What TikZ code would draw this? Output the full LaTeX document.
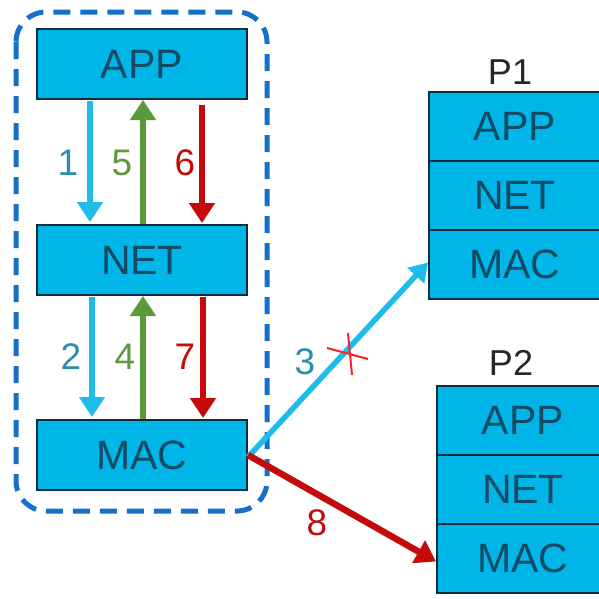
\documentclass[tikz,border=0pt]{standalone}
\usepackage{fontspec}
\setmainfont{Liberation Sans}
\usetikzlibrary{arrows.meta}
\definecolor{layerfill}{HTML}{00B6E8}
\definecolor{layerline}{HTML}{0E2C3C}
\definecolor{layertext}{HTML}{134A64}
\definecolor{groupblue}{HTML}{1670C8}
\definecolor{sendblue}{HTML}{1EBCEB}
\definecolor{sendtext}{HTML}{2A8FAB}
\definecolor{ackgreen}{HTML}{5A9A3A}
\definecolor{fwdred}{HTML}{C40A0A}
\definecolor{crossred}{HTML}{F5222A}
\tikzset{
  layer/.style={draw=layerline, line width=2pt, fill=layerfill, text=layertext,
    minimum width=210pt, minimum height=70pt, inner sep=0pt,
    font=\fontsize{41}{45}\selectfont},
  stacklayer/.style={layer, minimum width=172pt, minimum height=69pt},
  flow/.style={line width=6pt, -{Triangle[width=25pt,length=20pt]}},
  numlabel/.style={inner sep=0pt, font=\fontsize{37}{42}\selectfont},
  peerlabel/.style={inner sep=0pt, font=\fontsize{36}{40}\selectfont, text=black!85},
}
\begin{document}
\begin{tikzpicture}[x=1pt,y=-1pt]
\useasboundingbox (0,0) rectangle (599,598);
\clip (0,0) rectangle (599,598);
\fill[white] (0,0) rectangle (599,598);

% local protocol stack inside its dashed group
\draw[groupblue, line width=5pt, dash pattern=on 17pt off 10pt, rounded corners=30pt]
  (16,12) rectangle (267,511);
\node[layer] (app) at (142,64) {APP};
\node[layer] (net) at (142,260) {NET};
\node[layer] (mac) at (142,455) {MAC};

% peer stacks
\node[stacklayer] (p1app) at (515,126.5) {APP};
\node[stacklayer] (p1net) at (515,195.5) {NET};
\node[stacklayer] (p1mac) at (515,264.5) {MAC};
\node[peerlabel] (p1) at (510,72) {P1};

\node[stacklayer] (p2app) at (523,420.5) {APP};
\node[stacklayer] (p2net) at (523,489.5) {NET};
\node[stacklayer] (p2mac) at (523,558.5) {MAC};
\node[peerlabel] (p2) at (511,363) {P2};

% vertical flows between layers
\draw[flow, sendblue, shorten <=1pt, shorten >=2pt] ([xshift=-52pt]app.south) -- ([xshift=-52pt]net.north);
\draw[flow, ackgreen] ([xshift=1pt]net.north) -- ([xshift=1pt]app.south);
\draw[flow, fwdred, shorten <=5pt, shorten >=1pt] ([xshift=60pt]app.south) -- ([xshift=60pt]net.north);

\draw[flow, sendblue, shorten <=1pt, shorten >=2pt] ([xshift=-50pt]net.south) -- ([xshift=-50pt]mac.north);
\draw[flow, ackgreen] ([xshift=1pt]mac.north) -- ([xshift=1pt]net.south);
\draw[flow, fwdred, shorten <=1pt, shorten >=1pt] ([xshift=61pt]net.south) -- ([xshift=61pt]mac.north);

\node[numlabel, text=sendtext] (n1) at (68,163) {1};
\node[numlabel, text=ackgreen] (n5) at (122,163) {5};
\node[numlabel, text=fwdred] (n6) at (185,163) {6};
\node[numlabel, text=sendtext] (n2) at (71,357) {2};
\node[numlabel, text=ackgreen] (n4) at (125,357) {4};
\node[numlabel, text=fwdred] (n7) at (185,357) {7};

% transmissions to the peers
\draw[flow, sendblue, line width=5.5pt, -{Triangle[width=22pt,length=18pt]}]
  ([yshift=-2pt]mac.east) -- ([yshift=2pt]p1mac.west);
\draw[flow, fwdred, line width=6.5pt]
  (mac.east) -- ([yshift=-3pt]p2mac.west);

% failed delivery mark
\coordinate (lossA) at (327,348);
\coordinate (lossB) at (368,359);
\coordinate (lossC) at (348,333);
\coordinate (lossD) at (352,375);
\draw[crossred, line width=2pt] (lossA) -- (lossB) (lossC) -- (lossD);

\node[numlabel, text=sendtext] (n3) at (305,362) {3};
\node[numlabel, text=fwdred] (n8) at (317,523) {8};
\end{tikzpicture}
\end{document}
